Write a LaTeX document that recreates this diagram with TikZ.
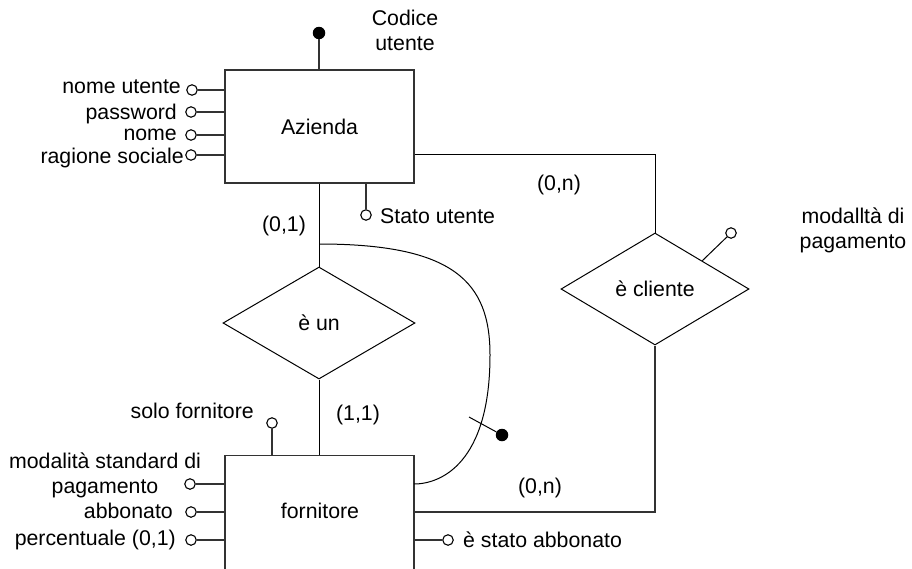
\documentclass[tikz,border=0pt]{standalone}
\usepackage{fontspec}
\setmainfont{Liberation Sans}
\usetikzlibrary{shapes.geometric,calc}
\begin{document}
\begin{tikzpicture}[x=1pt,y=-1pt,
  every node/.style={font=\fontsize{21.3}{25}\selectfont},
  entity/.style={rectangle, draw=black!80, line width=1.3pt, inner sep=0pt},
  relation/.style={diamond, draw=black, line width=1pt, inner sep=0pt},
  attr/.style={circle, draw=black, line width=1.1pt, fill=white, inner sep=0pt, minimum size=10.5pt},
  keyattr/.style={circle, fill=black, inner sep=0pt, minimum size=12.5pt},
  link/.style={draw=black!80, line width=1.3pt},
  thin link/.style={draw=black, line width=1pt},
  lbl/.style={inner sep=0pt, anchor=base},
  lbl east/.style={inner sep=0pt, anchor=base east},
  lbl west/.style={inner sep=0pt, anchor=base west}]
\useasboundingbox (0,0) rectangle (912,568);
\clip (0,0) rectangle (912,568);

% entities
\node[entity, minimum width=189pt, minimum height=113pt] (azienda) at (319.5,126.5) {Azienda};
\node[entity, minimum width=189pt, minimum height=160pt, anchor=north] (forn) at (319.5,455) {};
\node[lbl] (fornlab) at (320,518) {fornitore};

% relationships
\node[relation, minimum width=192pt, minimum height=112pt, aspect=1.714] (isa) at (319,323) {è un};
\node[relation, minimum width=188pt, minimum height=112pt, aspect=1.68] (cl) at (655,289) {è cliente};

% key of Azienda
\node[keyattr] (kcod) at (319,33) {};
\draw[link] (azienda.north -| kcod) -- (kcod);
\node[inner sep=0pt, align=center, anchor=center] (tcod) at (405,30) {Codice\\utente};

% attributes of Azienda
\node[attr] (a1) at (192,90) {};
\node[attr] (a2) at (191,112) {};
\node[attr] (a3) at (191,135) {};
\node[attr] (a4) at (191,155) {};
\foreach \a in {a1,a2,a3,a4} \draw[link] (\a) -- (azienda.west |- \a);
\node[lbl east] (t1) at (181,93) {nome utente};
\node[lbl east] (t2) at (177,119) {password};
\node[lbl east] (t3) at (177,140) {nome};
\node[lbl east] (t4) at (184,163) {ragione sociale};

\node[attr] (stato) at (366,215) {};
\draw[link] (azienda.south -| stato) -- (stato);
\node[lbl west] (tstato) at (380,223) {Stato utente};

% attributes of fornitore
\node[attr] (f1) at (190,484) {};
\node[attr] (f2) at (191,512) {};
\node[attr] (f3) at (191,540) {};
\foreach \a in {f1,f2,f3} \draw[link] (\a) -- (forn.west |- \a);
\node[inner sep=0pt, align=center] (tf1) at (105,475) {modalità standard di\\pagamento};
\node[lbl east] (tf2) at (173,518) {abbonato};
\node[lbl east] (tf3) at (176,545) {percentuale (0,1)};

\node[attr] (solo) at (272,423) {};
\draw[link] (forn.north -| solo) -- (solo);
\node[lbl east] (tsolo) at (254,418) {solo fornitore};

\node[attr] (esa) at (448,540) {};
\draw[link] (forn.east |- esa) -- (esa);
\node[lbl west] (tesa) at (463,547) {è stato abbonato};

% generalisation link
\draw[thin link] (azienda.south -| isa.north) -- (isa.north);
\draw[thin link] (isa.south) -- (forn.north -| isa.south);
\node[lbl] (c01) at (284,231) {(0,1)};
\node[lbl] (c11) at (358,420) {(1,1)};

% external identifier arc
\coordinate (arcs) at (319,244);
\coordinate (arce) at (414,484);
\draw[thin link] (arcs) .. controls (454,244) and (490,282) .. (490,355)
  .. controls (490,463) and (441,484) .. (arce);
\coordinate (idm) at (469,417);
\node[keyattr] (idk) at (502,435) {};
\draw[thin link] (idm) -- (idk);

% è cliente links
\draw[thin link] (cl.north) |- (azienda.east |- 0,154);
\draw[link] (forn.east |- 0,512) -| (cl.south);
\node[lbl] (c0n1) at (559,190) {(0,n)};
\node[lbl] (c0n2) at (540,493) {(0,n)};

\node[attr] (mp) at (731,233) {};
\draw[thin link] ($(cl.north)!0.5!(cl.east)$) -- (mp);
\node[inner sep=0pt, align=center] (tmp) at (853,230) {modalltà di\\pagamento};
\end{tikzpicture}
\end{document}
